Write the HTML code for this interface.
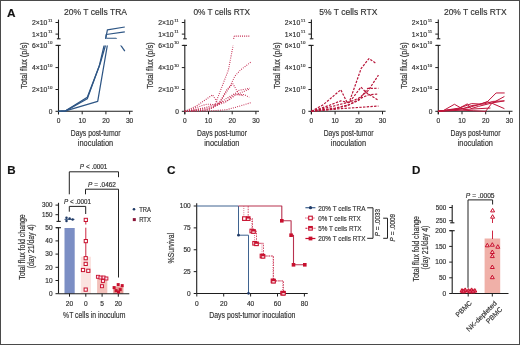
<!DOCTYPE html>
<html><head><meta charset="utf-8"><style>
html,body{margin:0;padding:0;background:#fff;}
svg{display:block;will-change:transform;}
text{font-family:"Liberation Sans", sans-serif;stroke:#333;stroke-width:0.18px;}
</style></head><body>
<svg width="520" height="345" viewBox="0 0 520 345">
<defs>
<clipPath id="cl1"><rect x="0" y="45.4" width="200" height="70"/></clipPath>
<clipPath id="cu1"><rect x="0" y="15" width="200" height="23.8"/></clipPath>
<clipPath id="cl2"><rect x="100" y="45.4" width="200" height="70"/></clipPath>
<clipPath id="cl3"><rect x="200" y="45.4" width="200" height="70"/></clipPath>
</defs>
<rect x="0" y="0" width="520" height="345" fill="#fff"/>
<text x="95.5" y="14.7" font-size="9.8" text-anchor="middle" fill="#333" font-weight="normal" textLength="63.1" lengthAdjust="spacingAndGlyphs">20% T cells TRA</text>
<line x1="58.5" y1="19.6" x2="58.5" y2="38.8" stroke="#1e1e1e" stroke-width="1.1"/>
<line x1="56.9" y1="38.8" x2="60.5" y2="38.8" stroke="#1e1e1e" stroke-width="1.1"/>
<line x1="55.5" y1="22.5" x2="58.5" y2="22.5" stroke="#1e1e1e" stroke-width="1"/>
<line x1="55.5" y1="34.1" x2="58.5" y2="34.1" stroke="#1e1e1e" stroke-width="1"/>
<line x1="56.5" y1="45.4" x2="60.7" y2="45.4" stroke="#1e1e1e" stroke-width="1.1"/>
<line x1="58.5" y1="45.4" x2="58.5" y2="114.3" stroke="#1e1e1e" stroke-width="1.1"/>
<line x1="55.5" y1="45.4" x2="58.5" y2="45.4" stroke="#1e1e1e" stroke-width="1"/>
<line x1="55.5" y1="67.6" x2="58.5" y2="67.6" stroke="#1e1e1e" stroke-width="1"/>
<line x1="55.5" y1="89.5" x2="58.5" y2="89.5" stroke="#1e1e1e" stroke-width="1"/>
<line x1="55.5" y1="111.3" x2="58.5" y2="111.3" stroke="#1e1e1e" stroke-width="1"/>
<line x1="58.5" y1="111.3" x2="132.7" y2="111.3" stroke="#1e1e1e" stroke-width="1.1"/>
<line x1="58.5" y1="111.3" x2="58.5" y2="114.3" stroke="#1e1e1e" stroke-width="1"/>
<text x="58.5" y="123.2" font-size="6.6" text-anchor="middle" fill="#333" font-weight="normal">0</text>
<line x1="82.2" y1="111.3" x2="82.2" y2="114.3" stroke="#1e1e1e" stroke-width="1"/>
<text x="82.2" y="123.2" font-size="6.6" text-anchor="middle" fill="#333" font-weight="normal">10</text>
<line x1="105.9" y1="111.3" x2="105.9" y2="114.3" stroke="#1e1e1e" stroke-width="1"/>
<text x="105.9" y="123.2" font-size="6.6" text-anchor="middle" fill="#333" font-weight="normal">20</text>
<line x1="129.6" y1="111.3" x2="129.6" y2="114.3" stroke="#1e1e1e" stroke-width="1"/>
<text x="129.6" y="123.2" font-size="6.6" text-anchor="middle" fill="#333" font-weight="normal">30</text>
<text x="52.5" y="21.5" font-size="4.4" text-anchor="end" fill="#444" font-weight="normal">11</text>
<text x="47.3" y="24.9" font-size="6.5" text-anchor="end" fill="#333" font-weight="normal" textLength="15.4" lengthAdjust="spacingAndGlyphs">2×10</text>
<text x="52.5" y="33.1" font-size="4.4" text-anchor="end" fill="#444" font-weight="normal">11</text>
<text x="47.3" y="36.5" font-size="6.5" text-anchor="end" fill="#333" font-weight="normal" textLength="15.4" lengthAdjust="spacingAndGlyphs">1×10</text>
<text x="52.5" y="44.4" font-size="4.4" text-anchor="end" fill="#444" font-weight="normal">10</text>
<text x="47.3" y="47.8" font-size="6.5" text-anchor="end" fill="#333" font-weight="normal" textLength="15.4" lengthAdjust="spacingAndGlyphs">6×10</text>
<text x="52.5" y="66.6" font-size="4.4" text-anchor="end" fill="#444" font-weight="normal">10</text>
<text x="47.3" y="70.0" font-size="6.5" text-anchor="end" fill="#333" font-weight="normal" textLength="15.4" lengthAdjust="spacingAndGlyphs">4×10</text>
<text x="52.5" y="88.5" font-size="4.4" text-anchor="end" fill="#444" font-weight="normal">10</text>
<text x="47.3" y="91.9" font-size="6.5" text-anchor="end" fill="#333" font-weight="normal" textLength="15.4" lengthAdjust="spacingAndGlyphs">2×10</text>
<text x="52.5" y="113.6" font-size="6.6" text-anchor="end" fill="#333" font-weight="normal">0</text>
<text x="26.7" y="65.5" font-size="8.2" text-anchor="middle" fill="#333" font-weight="normal" textLength="46.5" lengthAdjust="spacingAndGlyphs" transform="rotate(-90 26.7 65.5)">Total flux (p/s)</text>
<text x="95.7" y="135.8" font-size="9.0" text-anchor="middle" fill="#333" font-weight="normal" textLength="49.8" lengthAdjust="spacingAndGlyphs">Days post-tumor</text>
<text x="95.5" y="146.1" font-size="9.0" text-anchor="middle" fill="#333" font-weight="normal" textLength="35.3" lengthAdjust="spacingAndGlyphs">inoculation</text>
<text x="221.8" y="14.7" font-size="9.8" text-anchor="middle" fill="#333" font-weight="normal" textLength="56.6" lengthAdjust="spacingAndGlyphs">0% T cells RTX</text>
<line x1="184.8" y1="19.6" x2="184.8" y2="38.8" stroke="#1e1e1e" stroke-width="1.1"/>
<line x1="183.20000000000002" y1="38.8" x2="186.8" y2="38.8" stroke="#1e1e1e" stroke-width="1.1"/>
<line x1="181.8" y1="22.5" x2="184.8" y2="22.5" stroke="#1e1e1e" stroke-width="1"/>
<line x1="181.8" y1="34.1" x2="184.8" y2="34.1" stroke="#1e1e1e" stroke-width="1"/>
<line x1="182.8" y1="45.4" x2="187.0" y2="45.4" stroke="#1e1e1e" stroke-width="1.1"/>
<line x1="184.8" y1="45.4" x2="184.8" y2="114.3" stroke="#1e1e1e" stroke-width="1.1"/>
<line x1="181.8" y1="45.4" x2="184.8" y2="45.4" stroke="#1e1e1e" stroke-width="1"/>
<line x1="181.8" y1="67.6" x2="184.8" y2="67.6" stroke="#1e1e1e" stroke-width="1"/>
<line x1="181.8" y1="89.5" x2="184.8" y2="89.5" stroke="#1e1e1e" stroke-width="1"/>
<line x1="181.8" y1="111.3" x2="184.8" y2="111.3" stroke="#1e1e1e" stroke-width="1"/>
<line x1="184.8" y1="111.3" x2="259.0" y2="111.3" stroke="#1e1e1e" stroke-width="1.1"/>
<line x1="184.8" y1="111.3" x2="184.8" y2="114.3" stroke="#1e1e1e" stroke-width="1"/>
<text x="184.8" y="123.2" font-size="6.6" text-anchor="middle" fill="#333" font-weight="normal">0</text>
<line x1="208.5" y1="111.3" x2="208.5" y2="114.3" stroke="#1e1e1e" stroke-width="1"/>
<text x="208.5" y="123.2" font-size="6.6" text-anchor="middle" fill="#333" font-weight="normal">10</text>
<line x1="232.20000000000002" y1="111.3" x2="232.20000000000002" y2="114.3" stroke="#1e1e1e" stroke-width="1"/>
<text x="232.20000000000002" y="123.2" font-size="6.6" text-anchor="middle" fill="#333" font-weight="normal">20</text>
<line x1="255.9" y1="111.3" x2="255.9" y2="114.3" stroke="#1e1e1e" stroke-width="1"/>
<text x="255.9" y="123.2" font-size="6.6" text-anchor="middle" fill="#333" font-weight="normal">30</text>
<text x="178.8" y="21.5" font-size="4.4" text-anchor="end" fill="#444" font-weight="normal">11</text>
<text x="173.60000000000002" y="24.9" font-size="6.5" text-anchor="end" fill="#333" font-weight="normal" textLength="15.4" lengthAdjust="spacingAndGlyphs">2×10</text>
<text x="178.8" y="33.1" font-size="4.4" text-anchor="end" fill="#444" font-weight="normal">11</text>
<text x="173.60000000000002" y="36.5" font-size="6.5" text-anchor="end" fill="#333" font-weight="normal" textLength="15.4" lengthAdjust="spacingAndGlyphs">1×10</text>
<text x="178.8" y="44.4" font-size="4.4" text-anchor="end" fill="#444" font-weight="normal">10</text>
<text x="173.60000000000002" y="47.8" font-size="6.5" text-anchor="end" fill="#333" font-weight="normal" textLength="15.4" lengthAdjust="spacingAndGlyphs">6×10</text>
<text x="178.8" y="66.6" font-size="4.4" text-anchor="end" fill="#444" font-weight="normal">10</text>
<text x="173.60000000000002" y="70.0" font-size="6.5" text-anchor="end" fill="#333" font-weight="normal" textLength="15.4" lengthAdjust="spacingAndGlyphs">4×10</text>
<text x="178.8" y="88.5" font-size="4.4" text-anchor="end" fill="#444" font-weight="normal">10</text>
<text x="173.60000000000002" y="91.9" font-size="6.5" text-anchor="end" fill="#333" font-weight="normal" textLength="15.4" lengthAdjust="spacingAndGlyphs">2×10</text>
<text x="178.8" y="113.6" font-size="6.6" text-anchor="end" fill="#333" font-weight="normal">0</text>
<text x="153.0" y="65.5" font-size="8.2" text-anchor="middle" fill="#333" font-weight="normal" textLength="46.5" lengthAdjust="spacingAndGlyphs" transform="rotate(-90 153.0 65.5)">Total flux (p/s)</text>
<text x="222.0" y="135.8" font-size="9.0" text-anchor="middle" fill="#333" font-weight="normal" textLength="49.8" lengthAdjust="spacingAndGlyphs">Days post-tumor</text>
<text x="221.8" y="146.1" font-size="9.0" text-anchor="middle" fill="#333" font-weight="normal" textLength="35.3" lengthAdjust="spacingAndGlyphs">inoculation</text>
<text x="348.4" y="14.7" font-size="9.8" text-anchor="middle" fill="#333" font-weight="normal" textLength="58.1" lengthAdjust="spacingAndGlyphs">5% T cells RTX</text>
<line x1="311.4" y1="19.6" x2="311.4" y2="38.8" stroke="#1e1e1e" stroke-width="1.1"/>
<line x1="309.79999999999995" y1="38.8" x2="313.4" y2="38.8" stroke="#1e1e1e" stroke-width="1.1"/>
<line x1="308.4" y1="22.5" x2="311.4" y2="22.5" stroke="#1e1e1e" stroke-width="1"/>
<line x1="308.4" y1="34.1" x2="311.4" y2="34.1" stroke="#1e1e1e" stroke-width="1"/>
<line x1="309.4" y1="45.4" x2="313.59999999999997" y2="45.4" stroke="#1e1e1e" stroke-width="1.1"/>
<line x1="311.4" y1="45.4" x2="311.4" y2="114.3" stroke="#1e1e1e" stroke-width="1.1"/>
<line x1="308.4" y1="45.4" x2="311.4" y2="45.4" stroke="#1e1e1e" stroke-width="1"/>
<line x1="308.4" y1="67.6" x2="311.4" y2="67.6" stroke="#1e1e1e" stroke-width="1"/>
<line x1="308.4" y1="89.5" x2="311.4" y2="89.5" stroke="#1e1e1e" stroke-width="1"/>
<line x1="308.4" y1="111.3" x2="311.4" y2="111.3" stroke="#1e1e1e" stroke-width="1"/>
<line x1="311.4" y1="111.3" x2="385.59999999999997" y2="111.3" stroke="#1e1e1e" stroke-width="1.1"/>
<line x1="311.4" y1="111.3" x2="311.4" y2="114.3" stroke="#1e1e1e" stroke-width="1"/>
<text x="311.4" y="123.2" font-size="6.6" text-anchor="middle" fill="#333" font-weight="normal">0</text>
<line x1="335.09999999999997" y1="111.3" x2="335.09999999999997" y2="114.3" stroke="#1e1e1e" stroke-width="1"/>
<text x="335.09999999999997" y="123.2" font-size="6.6" text-anchor="middle" fill="#333" font-weight="normal">10</text>
<line x1="358.79999999999995" y1="111.3" x2="358.79999999999995" y2="114.3" stroke="#1e1e1e" stroke-width="1"/>
<text x="358.79999999999995" y="123.2" font-size="6.6" text-anchor="middle" fill="#333" font-weight="normal">20</text>
<line x1="382.5" y1="111.3" x2="382.5" y2="114.3" stroke="#1e1e1e" stroke-width="1"/>
<text x="382.5" y="123.2" font-size="6.6" text-anchor="middle" fill="#333" font-weight="normal">30</text>
<text x="305.4" y="21.5" font-size="4.4" text-anchor="end" fill="#444" font-weight="normal">11</text>
<text x="300.2" y="24.9" font-size="6.5" text-anchor="end" fill="#333" font-weight="normal" textLength="15.4" lengthAdjust="spacingAndGlyphs">2×10</text>
<text x="305.4" y="33.1" font-size="4.4" text-anchor="end" fill="#444" font-weight="normal">11</text>
<text x="300.2" y="36.5" font-size="6.5" text-anchor="end" fill="#333" font-weight="normal" textLength="15.4" lengthAdjust="spacingAndGlyphs">1×10</text>
<text x="305.4" y="44.4" font-size="4.4" text-anchor="end" fill="#444" font-weight="normal">10</text>
<text x="300.2" y="47.8" font-size="6.5" text-anchor="end" fill="#333" font-weight="normal" textLength="15.4" lengthAdjust="spacingAndGlyphs">6×10</text>
<text x="305.4" y="66.6" font-size="4.4" text-anchor="end" fill="#444" font-weight="normal">10</text>
<text x="300.2" y="70.0" font-size="6.5" text-anchor="end" fill="#333" font-weight="normal" textLength="15.4" lengthAdjust="spacingAndGlyphs">4×10</text>
<text x="305.4" y="88.5" font-size="4.4" text-anchor="end" fill="#444" font-weight="normal">10</text>
<text x="300.2" y="91.9" font-size="6.5" text-anchor="end" fill="#333" font-weight="normal" textLength="15.4" lengthAdjust="spacingAndGlyphs">2×10</text>
<text x="305.4" y="113.6" font-size="6.6" text-anchor="end" fill="#333" font-weight="normal">0</text>
<text x="279.59999999999997" y="65.5" font-size="8.2" text-anchor="middle" fill="#333" font-weight="normal" textLength="46.5" lengthAdjust="spacingAndGlyphs" transform="rotate(-90 279.59999999999997 65.5)">Total flux (p/s)</text>
<text x="348.59999999999997" y="135.8" font-size="9.0" text-anchor="middle" fill="#333" font-weight="normal" textLength="49.8" lengthAdjust="spacingAndGlyphs">Days post-tumor</text>
<text x="348.4" y="146.1" font-size="9.0" text-anchor="middle" fill="#333" font-weight="normal" textLength="35.3" lengthAdjust="spacingAndGlyphs">inoculation</text>
<text x="475.3" y="14.7" font-size="9.8" text-anchor="middle" fill="#333" font-weight="normal" textLength="62.7" lengthAdjust="spacingAndGlyphs">20% T cells RTX</text>
<line x1="438.3" y1="19.6" x2="438.3" y2="38.8" stroke="#1e1e1e" stroke-width="1.1"/>
<line x1="436.7" y1="38.8" x2="440.3" y2="38.8" stroke="#1e1e1e" stroke-width="1.1"/>
<line x1="435.3" y1="22.5" x2="438.3" y2="22.5" stroke="#1e1e1e" stroke-width="1"/>
<line x1="435.3" y1="34.1" x2="438.3" y2="34.1" stroke="#1e1e1e" stroke-width="1"/>
<line x1="436.3" y1="45.4" x2="440.5" y2="45.4" stroke="#1e1e1e" stroke-width="1.1"/>
<line x1="438.3" y1="45.4" x2="438.3" y2="114.3" stroke="#1e1e1e" stroke-width="1.1"/>
<line x1="435.3" y1="45.4" x2="438.3" y2="45.4" stroke="#1e1e1e" stroke-width="1"/>
<line x1="435.3" y1="67.6" x2="438.3" y2="67.6" stroke="#1e1e1e" stroke-width="1"/>
<line x1="435.3" y1="89.5" x2="438.3" y2="89.5" stroke="#1e1e1e" stroke-width="1"/>
<line x1="435.3" y1="111.3" x2="438.3" y2="111.3" stroke="#1e1e1e" stroke-width="1"/>
<line x1="438.3" y1="111.3" x2="512.5" y2="111.3" stroke="#1e1e1e" stroke-width="1.1"/>
<line x1="438.3" y1="111.3" x2="438.3" y2="114.3" stroke="#1e1e1e" stroke-width="1"/>
<text x="438.3" y="123.2" font-size="6.6" text-anchor="middle" fill="#333" font-weight="normal">0</text>
<line x1="462.0" y1="111.3" x2="462.0" y2="114.3" stroke="#1e1e1e" stroke-width="1"/>
<text x="462.0" y="123.2" font-size="6.6" text-anchor="middle" fill="#333" font-weight="normal">10</text>
<line x1="485.7" y1="111.3" x2="485.7" y2="114.3" stroke="#1e1e1e" stroke-width="1"/>
<text x="485.7" y="123.2" font-size="6.6" text-anchor="middle" fill="#333" font-weight="normal">20</text>
<line x1="509.4" y1="111.3" x2="509.4" y2="114.3" stroke="#1e1e1e" stroke-width="1"/>
<text x="509.4" y="123.2" font-size="6.6" text-anchor="middle" fill="#333" font-weight="normal">30</text>
<text x="432.3" y="21.5" font-size="4.4" text-anchor="end" fill="#444" font-weight="normal">11</text>
<text x="427.1" y="24.9" font-size="6.5" text-anchor="end" fill="#333" font-weight="normal" textLength="15.4" lengthAdjust="spacingAndGlyphs">2×10</text>
<text x="432.3" y="33.1" font-size="4.4" text-anchor="end" fill="#444" font-weight="normal">11</text>
<text x="427.1" y="36.5" font-size="6.5" text-anchor="end" fill="#333" font-weight="normal" textLength="15.4" lengthAdjust="spacingAndGlyphs">1×10</text>
<text x="432.3" y="44.4" font-size="4.4" text-anchor="end" fill="#444" font-weight="normal">10</text>
<text x="427.1" y="47.8" font-size="6.5" text-anchor="end" fill="#333" font-weight="normal" textLength="15.4" lengthAdjust="spacingAndGlyphs">6×10</text>
<text x="432.3" y="66.6" font-size="4.4" text-anchor="end" fill="#444" font-weight="normal">10</text>
<text x="427.1" y="70.0" font-size="6.5" text-anchor="end" fill="#333" font-weight="normal" textLength="15.4" lengthAdjust="spacingAndGlyphs">4×10</text>
<text x="432.3" y="88.5" font-size="4.4" text-anchor="end" fill="#444" font-weight="normal">10</text>
<text x="427.1" y="91.9" font-size="6.5" text-anchor="end" fill="#333" font-weight="normal" textLength="15.4" lengthAdjust="spacingAndGlyphs">2×10</text>
<text x="432.3" y="113.6" font-size="6.6" text-anchor="end" fill="#333" font-weight="normal">0</text>
<text x="406.5" y="65.5" font-size="8.2" text-anchor="middle" fill="#333" font-weight="normal" textLength="46.5" lengthAdjust="spacingAndGlyphs" transform="rotate(-90 406.5 65.5)">Total flux (p/s)</text>
<text x="475.5" y="135.8" font-size="9.0" text-anchor="middle" fill="#333" font-weight="normal" textLength="49.8" lengthAdjust="spacingAndGlyphs">Days post-tumor</text>
<text x="475.3" y="146.1" font-size="9.0" text-anchor="middle" fill="#333" font-weight="normal" textLength="35.3" lengthAdjust="spacingAndGlyphs">inoculation</text>
<text x="7.0" y="16.7" font-size="11.8" text-anchor="start" fill="#111" font-weight="bold">A</text>
<g clip-path="url(#cl1)">
<polyline points="58.50,111.30 65.60,110.90 87.30,97.20 99.30,66.00 104.20,45.00" fill="none" stroke="#2e5685" stroke-width="1.25" stroke-linejoin="round"/>
<polyline points="58.50,111.30 65.60,110.90 87.30,98.70 100.40,62.80 105.60,45.00" fill="none" stroke="#2e5685" stroke-width="1.25" stroke-linejoin="round"/>
<polyline points="58.50,111.30 65.60,110.90 97.70,101.30 107.40,45.00" fill="none" stroke="#2e5685" stroke-width="1.25" stroke-linejoin="round"/>
<polyline points="116.00,38.30 124.80,51.20" fill="none" stroke="#2e5685" stroke-width="1.25" stroke-linejoin="round"/>
</g>
<g clip-path="url(#cu1)">
<polyline points="104.80,42.00 105.70,38.50 107.40,29.90 124.80,27.00" fill="none" stroke="#2e5685" stroke-width="1.25" stroke-linejoin="round"/>
<polyline points="105.40,42.00 106.20,34.50 124.80,31.90" fill="none" stroke="#2e5685" stroke-width="1.25" stroke-linejoin="round"/>
<polyline points="107.30,42.00 107.10,38.30 116.00,38.30 124.80,51.20" fill="none" stroke="#2e5685" stroke-width="1.25" stroke-linejoin="round"/>
</g>
<g clip-path="url(#cl2)">
<polyline points="184.80,111.30 203.76,110.20 213.95,107.46 228.41,70.00 232.91,46.50 233.62,39.91" fill="none" stroke="#c42a50" stroke-width="1.1" stroke-linejoin="round" stroke-dasharray="0.9 1.3"/>
<polyline points="184.80,111.30 208.50,109.65 218.22,104.71 229.59,87.14 234.81,76.15 240.50,70.00 251.16,61.87" fill="none" stroke="#c42a50" stroke-width="1.1" stroke-linejoin="round" stroke-dasharray="0.9 1.3"/>
<polyline points="184.80,111.30 196.65,105.81 212.53,94.82 218.45,104.16 226.99,89.33 232.91,83.84 238.60,93.73 248.79,89.33" fill="none" stroke="#c42a50" stroke-width="1.1" stroke-linejoin="round" stroke-dasharray="0.9 1.3"/>
<polyline points="184.80,111.30 203.76,108.00 217.98,103.61 228.65,100.32 235.76,94.82 244.05,94.50 249.26,97.35" fill="none" stroke="#c42a50" stroke-width="1.1" stroke-linejoin="round" stroke-dasharray="0.9 1.3"/>
<polyline points="184.80,111.30 208.50,108.00 225.09,102.51 238.60,90.43 249.74,88.23" fill="none" stroke="#c42a50" stroke-width="1.1" stroke-linejoin="round" stroke-dasharray="0.9 1.3"/>
<polyline points="184.80,111.30 213.24,110.75 226.75,109.65 236.94,106.91 251.40,102.51" fill="none" stroke="#c42a50" stroke-width="1.1" stroke-linejoin="round" stroke-dasharray="0.9 1.3"/>
<polyline points="184.80,111.30 206.60,104.16 217.98,104.71 225.09,99.22 234.57,93.73 244.05,95.92" fill="none" stroke="#c42a50" stroke-width="1.1" stroke-linejoin="round" stroke-dasharray="0.9 1.3"/>
</g>
<polyline points="233.60,38.80 234.30,36.10 250.30,36.10" fill="none" stroke="#c42a50" stroke-width="1.1" stroke-linejoin="round" stroke-dasharray="1 1.1"/>
<g clip-path="url(#cl3)">
<polyline points="311.40,111.30 330.36,106.91 349.32,101.96 361.17,68.47 368.99,58.58 375.39,62.97" fill="none" stroke="#b8163a" stroke-width="1.2" stroke-linejoin="round" stroke-dasharray="2.4 1.3"/>
<polyline points="311.40,111.30 323.25,104.71 340.79,89.77 347.42,103.06 358.80,98.12 368.28,90.43 378.47,75.05" fill="none" stroke="#b8163a" stroke-width="1.2" stroke-linejoin="round" stroke-dasharray="2.4 1.3"/>
<polyline points="311.40,111.30 327.99,105.81 340.79,100.87 349.32,102.51 360.93,87.14 366.38,92.63 378.47,100.32" fill="none" stroke="#b8163a" stroke-width="1.2" stroke-linejoin="round" stroke-dasharray="2.4 1.3"/>
<polyline points="311.40,111.30 335.10,108.00 349.32,104.71 358.80,100.32 367.81,88.45 378.47,88.23" fill="none" stroke="#b8163a" stroke-width="1.2" stroke-linejoin="round" stroke-dasharray="2.4 1.3"/>
<polyline points="311.40,111.30 332.73,109.10 346.95,105.81 361.17,98.12 368.28,94.82 378.47,93.95" fill="none" stroke="#b8163a" stroke-width="1.2" stroke-linejoin="round" stroke-dasharray="2.4 1.3"/>
<polyline points="311.40,111.30 340.79,108.66 358.80,107.46 378.47,106.03" fill="none" stroke="#b8163a" stroke-width="1.2" stroke-linejoin="round" stroke-dasharray="2.4 1.3"/>
</g>
<polyline points="438.30,111.30 450.15,110.20 462.00,109.10 471.01,105.81 478.59,104.71 487.36,101.74 496.13,92.96 504.66,92.96" fill="none" stroke="#c0143a" stroke-width="1.0" stroke-linejoin="round"/>
<polyline points="438.30,111.30 443.04,110.75 454.42,104.27 463.90,109.65 471.48,109.10 480.96,108.55 490.44,108.00" fill="none" stroke="#c0143a" stroke-width="1.0" stroke-linejoin="round"/>
<polyline points="438.30,111.30 457.26,109.10 467.45,103.83 471.01,108.66 478.59,106.36 491.62,103.06 504.42,100.87" fill="none" stroke="#c0143a" stroke-width="1.0" stroke-linejoin="round"/>
<polyline points="438.30,111.30 462.00,110.20 473.85,110.75 485.70,111.30 491.62,103.50 504.42,96.47" fill="none" stroke="#c0143a" stroke-width="1.0" stroke-linejoin="round"/>
<polyline points="438.30,111.30 466.74,108.00 478.59,104.71 487.36,101.74 492.57,103.50 504.42,108.66" fill="none" stroke="#c0143a" stroke-width="1.0" stroke-linejoin="round"/>
<polyline points="438.30,111.30 459.63,108.00 471.48,103.61 483.33,104.16 492.81,101.41 504.42,100.87" fill="none" stroke="#c0143a" stroke-width="1.0" stroke-linejoin="round"/>
<text x="7.2" y="174" font-size="11.6" text-anchor="start" fill="#111" font-weight="bold">B</text>
<line x1="58.5" y1="202.8" x2="58.5" y2="221.4" stroke="#1e1e1e" stroke-width="1.1"/>
<line x1="56.5" y1="221.4" x2="60.7" y2="221.4" stroke="#1e1e1e" stroke-width="1.1"/>
<line x1="55.5" y1="205.1" x2="58.5" y2="205.1" stroke="#1e1e1e" stroke-width="1"/>
<text x="52.5" y="207.4" font-size="6.5" text-anchor="end" fill="#333" font-weight="normal" textLength="10.4" lengthAdjust="spacingAndGlyphs">300</text>
<line x1="55.5" y1="214.7" x2="58.5" y2="214.7" stroke="#1e1e1e" stroke-width="1"/>
<text x="52.5" y="217.0" font-size="6.5" text-anchor="end" fill="#333" font-weight="normal" textLength="10.4" lengthAdjust="spacingAndGlyphs">150</text>
<line x1="56.0" y1="227.7" x2="61.0" y2="227.7" stroke="#1e1e1e" stroke-width="1.1"/>
<line x1="58.5" y1="227.7" x2="58.5" y2="293.7" stroke="#1e1e1e" stroke-width="1.1"/>
<line x1="55.5" y1="227.7" x2="58.5" y2="227.7" stroke="#1e1e1e" stroke-width="1"/>
<text x="52.5" y="230.0" font-size="6.5" text-anchor="end" fill="#333" font-weight="normal">50</text>
<line x1="55.5" y1="240.89999999999998" x2="58.5" y2="240.89999999999998" stroke="#1e1e1e" stroke-width="1"/>
<text x="52.5" y="243.2" font-size="6.5" text-anchor="end" fill="#333" font-weight="normal">40</text>
<line x1="55.5" y1="254.1" x2="58.5" y2="254.1" stroke="#1e1e1e" stroke-width="1"/>
<text x="52.5" y="256.4" font-size="6.5" text-anchor="end" fill="#333" font-weight="normal">30</text>
<line x1="55.5" y1="267.29999999999995" x2="58.5" y2="267.29999999999995" stroke="#1e1e1e" stroke-width="1"/>
<text x="52.5" y="269.59999999999997" font-size="6.5" text-anchor="end" fill="#333" font-weight="normal">20</text>
<line x1="55.5" y1="280.5" x2="58.5" y2="280.5" stroke="#1e1e1e" stroke-width="1"/>
<text x="52.5" y="282.8" font-size="6.5" text-anchor="end" fill="#333" font-weight="normal">10</text>
<line x1="55.5" y1="293.7" x2="58.5" y2="293.7" stroke="#1e1e1e" stroke-width="1"/>
<text x="52.5" y="296.0" font-size="6.5" text-anchor="end" fill="#333" font-weight="normal">0</text>
<rect x="64.5" y="228" width="10.2" height="65.7" fill="#7b8ec4"/>
<rect x="80.8" y="256.74" width="10.2" height="36.95999999999998" fill="#fbe3e0"/>
<rect x="97.1" y="276.53999999999996" width="10.2" height="17.160000000000025" fill="#f2c0ba"/>
<rect x="113.2" y="286.44" width="10.2" height="7.259999999999991" fill="#e99a94"/>
<line x1="58.5" y1="293.7" x2="129.3" y2="293.7" stroke="#1e1e1e" stroke-width="1.1"/>
<line x1="69.5" y1="293.7" x2="69.5" y2="296.7" stroke="#1e1e1e" stroke-width="1"/>
<text x="69.5" y="305.8" font-size="6.6" text-anchor="middle" fill="#333" font-weight="normal">20</text>
<line x1="85.8" y1="293.7" x2="85.8" y2="296.7" stroke="#1e1e1e" stroke-width="1"/>
<text x="85.8" y="305.8" font-size="6.6" text-anchor="middle" fill="#333" font-weight="normal">0</text>
<line x1="102.1" y1="293.7" x2="102.1" y2="296.7" stroke="#1e1e1e" stroke-width="1"/>
<text x="102.1" y="305.8" font-size="6.6" text-anchor="middle" fill="#333" font-weight="normal">5</text>
<line x1="118.3" y1="293.7" x2="118.3" y2="296.7" stroke="#1e1e1e" stroke-width="1"/>
<text x="118.3" y="305.8" font-size="6.6" text-anchor="middle" fill="#333" font-weight="normal">20</text>
<text x="94.2" y="318.2" font-size="8.9" text-anchor="middle" fill="#333" font-weight="normal" textLength="62.3" lengthAdjust="spacingAndGlyphs">%T cells in inoculum</text>
<text x="24.9" y="247.1" font-size="8.2" text-anchor="middle" fill="#333" font-weight="normal" textLength="65.5" lengthAdjust="spacingAndGlyphs" transform="rotate(-90 24.9 247.1)">Total flux fold change</text>
<text x="34.4" y="246.4" font-size="8.2" text-anchor="middle" fill="#333" font-weight="normal" textLength="43.8" lengthAdjust="spacingAndGlyphs" transform="rotate(-90 34.4 246.4)">(day 21/day 4)</text>
<polyline points="69.30,194.30 69.30,171.80 118.50,171.80 118.50,177.20" fill="none" stroke="#222" stroke-width="1.0" stroke-linejoin="round"/>
<text x="93.6" y="169.4" font-size="6.5" text-anchor="middle" fill="#333" font-weight="normal" textLength="27.5" lengthAdjust="spacingAndGlyphs" font-style="normal"><tspan font-style="italic">P</tspan> &lt; .0001</text>
<polyline points="85.50,194.30 85.50,189.20 118.50,189.20 118.50,277.50" fill="none" stroke="#222" stroke-width="1.0" stroke-linejoin="round"/>
<text x="102" y="187" font-size="6.5" text-anchor="middle" fill="#333" font-weight="normal" textLength="27.9" lengthAdjust="spacingAndGlyphs"><tspan font-style="italic">P</tspan> = .0462</text>
<polyline points="69.30,211.70 69.30,206.40 85.70,206.40 85.70,214.00" fill="none" stroke="#222" stroke-width="1.0" stroke-linejoin="round"/>
<text x="77.5" y="204.1" font-size="6.5" text-anchor="middle" fill="#333" font-weight="normal" textLength="27" lengthAdjust="spacingAndGlyphs"><tspan font-style="italic">P</tspan> &lt; .0001</text>
<line x1="85.8" y1="221.5" x2="85.8" y2="224.5" stroke="#c8102e" stroke-width="0.9"/>
<line x1="85.8" y1="227.7" x2="85.8" y2="256.6" stroke="#c8102e" stroke-width="0.9"/>
<line x1="64.5" y1="219.4" x2="74.5" y2="219.4" stroke="#2a4a78" stroke-width="0.9"/>
<circle cx="66.5" cy="217.7" r="1.25" fill="#1f3a66"/>
<circle cx="66.5" cy="221.1" r="1.25" fill="#1f3a66"/>
<circle cx="69.6" cy="218.6" r="1.25" fill="#1f3a66"/>
<circle cx="72.6" cy="219.6" r="1.25" fill="#1f3a66"/>
<rect x="84.2" y="218.3" width="3.2" height="3.2" fill="#fff" stroke="#c8102e" stroke-width="1.0"/>
<rect x="84.2" y="239.5" width="3.2" height="3.2" fill="#fff" stroke="#c8102e" stroke-width="1.0"/>
<rect x="84.10000000000001" y="256.59999999999997" width="3.2" height="3.2" fill="#fff" stroke="#c8102e" stroke-width="1.0"/>
<rect x="84.10000000000001" y="262.29999999999995" width="3.2" height="3.2" fill="#fff" stroke="#c8102e" stroke-width="1.0"/>
<rect x="81.4" y="268.4" width="3.2" height="3.2" fill="#fff" stroke="#c8102e" stroke-width="1.0"/>
<rect x="86.7" y="269.2" width="3.2" height="3.2" fill="#fff" stroke="#c8102e" stroke-width="1.0"/>
<rect x="84.10000000000001" y="288.0" width="3.2" height="3.2" fill="#fff" stroke="#c8102e" stroke-width="1.0"/>
<rect x="96.4" y="275.3" width="3" height="3" fill="#fde" stroke="#c8102e" stroke-width="0.9"/>
<rect x="99.0" y="276.0" width="3" height="3" fill="#fde" stroke="#c8102e" stroke-width="0.9"/>
<rect x="102.1" y="276.0" width="3" height="3" fill="#fde" stroke="#c8102e" stroke-width="0.9"/>
<rect x="104.9" y="277.0" width="3" height="3" fill="#fde" stroke="#c8102e" stroke-width="0.9"/>
<rect x="101.5" y="279.5" width="3" height="3" fill="#fde" stroke="#c8102e" stroke-width="0.9"/>
<rect x="100.5" y="284.7" width="3" height="3" fill="#fde" stroke="#c8102e" stroke-width="0.9"/>
<rect x="112.6" y="286.1" width="3" height="3" fill="#c8102e"/>
<rect x="116.7" y="283.1" width="3" height="3" fill="#c8102e"/>
<rect x="120.7" y="284.1" width="3" height="3" fill="#c8102e"/>
<rect x="114.6" y="289.1" width="3" height="3" fill="#c8102e"/>
<rect x="118.7" y="288.1" width="3" height="3" fill="#c8102e"/>
<rect x="117.0" y="290.5" width="3" height="3" fill="#c8102e"/>
<circle cx="134" cy="209.3" r="1.3" fill="#1f3a66"/>
<rect x="132.8" y="218.1" width="3" height="3" fill="#8a1538"/>
<text x="139.2" y="211.7" font-size="7.0" text-anchor="start" fill="#333" font-weight="normal" textLength="11.7" lengthAdjust="spacingAndGlyphs">TRA</text>
<text x="139.2" y="221.9" font-size="7.0" text-anchor="start" fill="#333" font-weight="normal" textLength="11.7" lengthAdjust="spacingAndGlyphs">RTX</text>
<text x="167.0" y="174.4" font-size="11.8" text-anchor="start" fill="#111" font-weight="bold">C</text>
<line x1="196.7" y1="203.3" x2="196.7" y2="293.5" stroke="#1e1e1e" stroke-width="1.1"/>
<line x1="193.7" y1="206.0" x2="196.7" y2="206.0" stroke="#1e1e1e" stroke-width="1"/>
<text x="190.7" y="208.3" font-size="6.5" text-anchor="end" fill="#333" font-weight="normal">100</text>
<line x1="193.7" y1="227.875" x2="196.7" y2="227.875" stroke="#1e1e1e" stroke-width="1"/>
<text x="190.7" y="230.175" font-size="6.5" text-anchor="end" fill="#333" font-weight="normal">75</text>
<line x1="193.7" y1="249.75" x2="196.7" y2="249.75" stroke="#1e1e1e" stroke-width="1"/>
<text x="190.7" y="252.05" font-size="6.5" text-anchor="end" fill="#333" font-weight="normal">50</text>
<line x1="193.7" y1="271.625" x2="196.7" y2="271.625" stroke="#1e1e1e" stroke-width="1"/>
<text x="190.7" y="273.925" font-size="6.5" text-anchor="end" fill="#333" font-weight="normal">25</text>
<line x1="193.7" y1="293.5" x2="196.7" y2="293.5" stroke="#1e1e1e" stroke-width="1"/>
<text x="190.7" y="295.8" font-size="6.5" text-anchor="end" fill="#333" font-weight="normal">0</text>
<line x1="196.7" y1="293.5" x2="307.7" y2="293.5" stroke="#1e1e1e" stroke-width="1.1"/>
<line x1="196.8" y1="293.5" x2="196.8" y2="296.5" stroke="#1e1e1e" stroke-width="1"/>
<text x="196.8" y="305.8" font-size="6.6" text-anchor="middle" fill="#333" font-weight="normal">0</text>
<line x1="223.70000000000002" y1="293.5" x2="223.70000000000002" y2="296.5" stroke="#1e1e1e" stroke-width="1"/>
<text x="223.70000000000002" y="305.8" font-size="6.6" text-anchor="middle" fill="#333" font-weight="normal">20</text>
<line x1="250.60000000000002" y1="293.5" x2="250.60000000000002" y2="296.5" stroke="#1e1e1e" stroke-width="1"/>
<text x="250.60000000000002" y="305.8" font-size="6.6" text-anchor="middle" fill="#333" font-weight="normal">40</text>
<line x1="277.5" y1="293.5" x2="277.5" y2="296.5" stroke="#1e1e1e" stroke-width="1"/>
<text x="277.5" y="305.8" font-size="6.6" text-anchor="middle" fill="#333" font-weight="normal">60</text>
<line x1="304.4" y1="293.5" x2="304.4" y2="296.5" stroke="#1e1e1e" stroke-width="1"/>
<text x="304.4" y="305.8" font-size="6.6" text-anchor="middle" fill="#333" font-weight="normal">80</text>
<text x="252.3" y="318.3" font-size="9.0" text-anchor="middle" fill="#333" font-weight="normal" textLength="86.2" lengthAdjust="spacingAndGlyphs">Days post-tumor inoculation</text>
<text x="174" y="248.2" font-size="8.6" text-anchor="middle" fill="#333" font-weight="normal" textLength="30.5" lengthAdjust="spacingAndGlyphs" transform="rotate(-90 174 248.2)">%Survival</text>
<polyline points="196.70,206.00 238.50,206.00 238.50,235.20 248.50,235.20 248.50,293.50" fill="none" stroke="#3f6390" stroke-width="1.0" stroke-linejoin="round"/>
<circle cx="238.5" cy="235.2" r="1.4" fill="#1f3a66"/>
<circle cx="248.5" cy="293.3" r="1.4" fill="#1f3a66"/>
<polyline points="238.50,206.00 281.80,206.00 281.80,220.80 291.10,220.80 291.10,235.20 293.50,235.20 293.50,264.80 304.80,264.80" fill="none" stroke="#b8324f" stroke-width="1.1" stroke-linejoin="round"/>
<rect x="280.0" y="219.0" width="3.6" height="3.6" fill="#c8102e"/>
<rect x="289.3" y="233.39999999999998" width="3.6" height="3.6" fill="#c8102e"/>
<rect x="291.7" y="263.0" width="3.6" height="3.6" fill="#c8102e"/>
<rect x="303.0" y="263.0" width="3.6" height="3.6" fill="#c8102e"/>
<polyline points="243.80,206.00 243.80,218.60 251.80,218.60 251.80,231.00 254.60,231.00 254.60,243.30 262.00,243.30 262.00,256.00 273.00,256.00 273.00,280.90 282.60,280.90 282.60,293.20" fill="none" stroke="#d04a68" stroke-width="0.85" stroke-linejoin="round" stroke-dasharray="0.9 1.2"/>
<polyline points="248.20,206.00 248.20,218.60 252.50,218.60 252.50,231.00 256.50,231.00 256.50,243.30 263.50,243.30 263.50,256.00 273.50,256.00 273.50,280.90 283.50,280.90 283.50,293.20" fill="none" stroke="#cc3050" stroke-width="0.85" stroke-linejoin="round" stroke-dasharray="1.6 1.1"/>
<rect x="242.6" y="216.79999999999998" width="3.6" height="3.6" fill="#fff" stroke="#c8102e" stroke-width="1.1"/>
<rect x="250.0" y="229.2" width="3.6" height="3.6" fill="#fff" stroke="#c8102e" stroke-width="1.1"/>
<rect x="252.79999999999998" y="241.5" width="3.6" height="3.6" fill="#fff" stroke="#c8102e" stroke-width="1.1"/>
<rect x="260.2" y="254.2" width="3.6" height="3.6" fill="#fff" stroke="#c8102e" stroke-width="1.1"/>
<rect x="271.2" y="279.09999999999997" width="3.6" height="3.6" fill="#fff" stroke="#c8102e" stroke-width="1.1"/>
<rect x="280.8" y="291.4" width="3.6" height="3.6" fill="#fff" stroke="#c8102e" stroke-width="1.1"/>
<rect x="246.39999999999998" y="216.79999999999998" width="3.6" height="3.6" fill="#fff" stroke="#c8102e" stroke-width="1.1"/>
<rect x="246.39999999999998" y="216.79999999999998" width="3.6" height="1.8" fill="#c8102e"/>
<rect x="251.7" y="229.7" width="3.6" height="3.6" fill="#fff" stroke="#c8102e" stroke-width="1.1"/>
<rect x="251.7" y="229.7" width="3.6" height="1.8" fill="#c8102e"/>
<rect x="254.7" y="242.0" width="3.6" height="3.6" fill="#fff" stroke="#c8102e" stroke-width="1.1"/>
<rect x="254.7" y="242.0" width="3.6" height="1.8" fill="#c8102e"/>
<rect x="261.2" y="254.5" width="3.6" height="3.6" fill="#fff" stroke="#c8102e" stroke-width="1.1"/>
<rect x="261.2" y="254.5" width="3.6" height="1.8" fill="#c8102e"/>
<rect x="271.7" y="279.4" width="3.6" height="3.6" fill="#fff" stroke="#c8102e" stroke-width="1.1"/>
<rect x="271.7" y="279.4" width="3.6" height="1.8" fill="#c8102e"/>
<rect x="281.7" y="291.4" width="3.6" height="3.6" fill="#fff" stroke="#c8102e" stroke-width="1.1"/>
<rect x="281.7" y="291.4" width="3.6" height="1.8" fill="#c8102e"/>
<line x1="305.4" y1="207.7" x2="315.4" y2="207.7" stroke="#3f6390" stroke-width="1.2"/>
<circle cx="310.5" cy="207.7" r="1.6" fill="#1f3a66"/>
<text x="318.2" y="210.5" font-size="7.8" text-anchor="start" fill="#333" font-weight="normal" textLength="47.2" lengthAdjust="spacingAndGlyphs">20% T cells TRA</text>
<line x1="305.4" y1="218.0" x2="315.4" y2="218.0" stroke="#c8102e" stroke-width="1.1" stroke-dasharray="1 1"/>
<rect x="308.7" y="216.2" width="3.6" height="3.6" fill="#fff" stroke="#c8102e" stroke-width="1.1"/>
<text x="318.2" y="220.8" font-size="7.8" text-anchor="start" fill="#333" font-weight="normal" textLength="42.6" lengthAdjust="spacingAndGlyphs">0% T cells RTX</text>
<line x1="305.4" y1="228.3" x2="315.4" y2="228.3" stroke="#c8102e" stroke-width="1.1" stroke-dasharray="2 1"/>
<rect x="308.7" y="226.5" width="3.6" height="3.6" fill="#fff" stroke="#c8102e" stroke-width="1.1"/>
<rect x="308.7" y="226.5" width="3.6" height="1.8" fill="#c8102e"/>
<text x="318.2" y="231.10000000000002" font-size="7.8" text-anchor="start" fill="#333" font-weight="normal" textLength="43.3" lengthAdjust="spacingAndGlyphs">5% T cells RTX</text>
<line x1="305.4" y1="238.5" x2="315.4" y2="238.5" stroke="#c8102e" stroke-width="1.2"/>
<rect x="308.6" y="236.6" width="3.8" height="3.8" fill="#c8102e"/>
<text x="318.2" y="241.3" font-size="7.8" text-anchor="start" fill="#333" font-weight="normal" textLength="47.2" lengthAdjust="spacingAndGlyphs">20% T cells RTX</text>
<polyline points="367.20,207.80 373.00,207.80 373.00,238.30 367.20,238.30" fill="none" stroke="#222" stroke-width="1.0" stroke-linejoin="round"/>
<text x="379.8" y="222.6" font-size="6.5" text-anchor="middle" fill="#333" font-weight="normal" textLength="27.5" lengthAdjust="spacingAndGlyphs" transform="rotate(-90 379.8 222.6)"><tspan font-style="italic">P</tspan> = .0033</text>
<polyline points="383.20,218.20 387.50,218.20 387.50,238.30 383.20,238.30" fill="none" stroke="#222" stroke-width="1.0" stroke-linejoin="round"/>
<text x="394.6" y="227.6" font-size="6.5" text-anchor="middle" fill="#333" font-weight="normal" textLength="27.6" lengthAdjust="spacingAndGlyphs" transform="rotate(-90 394.6 227.6)"><tspan font-style="italic">P</tspan> = .0009</text>
<text x="412.0" y="174.1" font-size="11.6" text-anchor="start" fill="#111" font-weight="bold">D</text>
<line x1="452.2" y1="205.1" x2="452.2" y2="222.8" stroke="#1e1e1e" stroke-width="1.1"/>
<line x1="450.2" y1="222.8" x2="454.4" y2="222.8" stroke="#1e1e1e" stroke-width="1.1"/>
<line x1="449.2" y1="207.5" x2="452.2" y2="207.5" stroke="#1e1e1e" stroke-width="1"/>
<text x="446.2" y="209.8" font-size="6.5" text-anchor="end" fill="#333" font-weight="normal" textLength="10.4" lengthAdjust="spacingAndGlyphs">500</text>
<line x1="449.2" y1="220.7" x2="452.2" y2="220.7" stroke="#1e1e1e" stroke-width="1"/>
<text x="446.2" y="223.0" font-size="6.5" text-anchor="end" fill="#333" font-weight="normal" textLength="10.4" lengthAdjust="spacingAndGlyphs">250</text>
<line x1="449.7" y1="230.7" x2="454.7" y2="230.7" stroke="#1e1e1e" stroke-width="1.1"/>
<line x1="452.2" y1="230.7" x2="452.2" y2="293.5" stroke="#1e1e1e" stroke-width="1.1"/>
<line x1="449.2" y1="230.7" x2="452.2" y2="230.7" stroke="#1e1e1e" stroke-width="1"/>
<text x="446.2" y="233.0" font-size="6.5" text-anchor="end" fill="#333" font-weight="normal">200</text>
<line x1="449.2" y1="246.39999999999998" x2="452.2" y2="246.39999999999998" stroke="#1e1e1e" stroke-width="1"/>
<text x="446.2" y="248.7" font-size="6.5" text-anchor="end" fill="#333" font-weight="normal">150</text>
<line x1="449.2" y1="262.09999999999997" x2="452.2" y2="262.09999999999997" stroke="#1e1e1e" stroke-width="1"/>
<text x="446.2" y="264.4" font-size="6.5" text-anchor="end" fill="#333" font-weight="normal">100</text>
<line x1="449.2" y1="277.79999999999995" x2="452.2" y2="277.79999999999995" stroke="#1e1e1e" stroke-width="1"/>
<text x="446.2" y="280.09999999999997" font-size="6.5" text-anchor="end" fill="#333" font-weight="normal">50</text>
<line x1="449.2" y1="293.5" x2="452.2" y2="293.5" stroke="#1e1e1e" stroke-width="1"/>
<text x="446.2" y="295.8" font-size="6.5" text-anchor="end" fill="#333" font-weight="normal">0</text>
<text x="418.6" y="248.8" font-size="8.2" text-anchor="middle" fill="#333" font-weight="normal" textLength="65.5" lengthAdjust="spacingAndGlyphs" transform="rotate(-90 418.6 248.8)">Total flux fold change</text>
<text x="428.1" y="247.5" font-size="8.2" text-anchor="middle" fill="#333" font-weight="normal" textLength="43.8" lengthAdjust="spacingAndGlyphs" transform="rotate(-90 428.1 247.5)">(day 21/day 4)</text>
<rect x="460.3" y="288.6" width="16" height="4.9" fill="#f7d0cc"/>
<rect x="484.6" y="238.5" width="15.6" height="55" fill="#f0b0a8"/>
<line x1="452.2" y1="293.5" x2="508.5" y2="293.5" stroke="#1e1e1e" stroke-width="1.1"/>
<line x1="468.2" y1="293.5" x2="468.2" y2="296.5" stroke="#1e1e1e" stroke-width="1"/>
<line x1="492.3" y1="293.5" x2="492.3" y2="296.5" stroke="#1e1e1e" stroke-width="1"/>
<polyline points="468.00,287.80 468.00,199.90 492.60,199.90 492.60,204.50" fill="none" stroke="#222" stroke-width="1.0" stroke-linejoin="round"/>
<text x="480.2" y="197.5" font-size="6.5" text-anchor="middle" fill="#333" font-weight="normal" textLength="28.7" lengthAdjust="spacingAndGlyphs"><tspan font-style="italic">P</tspan> = .0005</text>
<line x1="492.5" y1="218.5" x2="492.5" y2="223" stroke="#c8102e" stroke-width="0.9"/>
<line x1="492.5" y1="230.6" x2="492.5" y2="239" stroke="#c8102e" stroke-width="0.9"/>
<path d="M490.6,211.9 L492.6,208.4 L494.6,211.9 Z" fill="#fff" stroke="#c8102e" stroke-width="1"/>
<path d="M490.6,218.2 L492.6,214.7 L494.6,218.2 Z" fill="#fff" stroke="#c8102e" stroke-width="1"/>
<path d="M485.3,246.79999999999998 L487.3,243.29999999999998 L489.3,246.79999999999998 Z" fill="#f8c8c4" stroke="#c8102e" stroke-width="1"/>
<path d="M490.3,246.2 L492.3,242.7 L494.3,246.2 Z" fill="#f8c8c4" stroke="#c8102e" stroke-width="1"/>
<path d="M495.8,248.2 L497.8,244.7 L499.8,248.2 Z" fill="#f8c8c4" stroke="#c8102e" stroke-width="1"/>
<path d="M490.3,253.5 L492.3,250.0 L494.3,253.5 Z" fill="#f8c8c4" stroke="#c8102e" stroke-width="1"/>
<path d="M490.3,257.6 L492.3,254.1 L494.3,257.6 Z" fill="#f8c8c4" stroke="#c8102e" stroke-width="1"/>
<path d="M490.3,268.5 L492.3,265.0 L494.3,268.5 Z" fill="#f8c8c4" stroke="#c8102e" stroke-width="1"/>
<path d="M490.3,278.70000000000005 L492.3,275.20000000000005 L494.3,278.70000000000005 Z" fill="#f8c8c4" stroke="#c8102e" stroke-width="1"/>
<path d="M460,292.1 L462,288.6 L464,292.1 Z" fill="#e05070" stroke="#c8102e" stroke-width="1"/>
<path d="M463.2,291.40000000000003 L465.2,287.90000000000003 L467.2,291.40000000000003 Z" fill="#e05070" stroke="#c8102e" stroke-width="1"/>
<path d="M466.4,292.1 L468.4,288.6 L470.4,292.1 Z" fill="#e05070" stroke="#c8102e" stroke-width="1"/>
<path d="M469.6,291.40000000000003 L471.6,287.90000000000003 L473.6,291.40000000000003 Z" fill="#e05070" stroke="#c8102e" stroke-width="1"/>
<path d="M472.8,292.1 L474.8,288.6 L476.8,292.1 Z" fill="#e05070" stroke="#c8102e" stroke-width="1"/>
<path d="M461.5,292.90000000000003 L463.5,289.40000000000003 L465.5,292.90000000000003 Z" fill="#e05070" stroke="#c8102e" stroke-width="1"/>
<path d="M468,292.90000000000003 L470,289.40000000000003 L472,292.90000000000003 Z" fill="#e05070" stroke="#c8102e" stroke-width="1"/>
<path d="M471,292.90000000000003 L473,289.40000000000003 L475,292.90000000000003 Z" fill="#e05070" stroke="#c8102e" stroke-width="1"/>
<text x="472.4" y="303.4" font-size="6.8" text-anchor="end" fill="#333" font-weight="normal" textLength="20" lengthAdjust="spacingAndGlyphs" transform="rotate(-45 472.4 303.4)">PBMC</text>
<text x="497.4" y="303.6" font-size="6.8" text-anchor="end" fill="#333" font-weight="normal" textLength="40.2" lengthAdjust="spacingAndGlyphs" transform="rotate(-45 497.4 303.6)">NK-depleted</text>
<text x="502.8" y="309.8" font-size="6.8" text-anchor="end" fill="#333" font-weight="normal" textLength="20" lengthAdjust="spacingAndGlyphs" transform="rotate(-45 502.8 309.8)">PBMC</text>
<rect x="0.5" y="0.5" width="519" height="344" fill="none" stroke="#4a4a4a" stroke-width="1"/>
</svg>
</body></html>
